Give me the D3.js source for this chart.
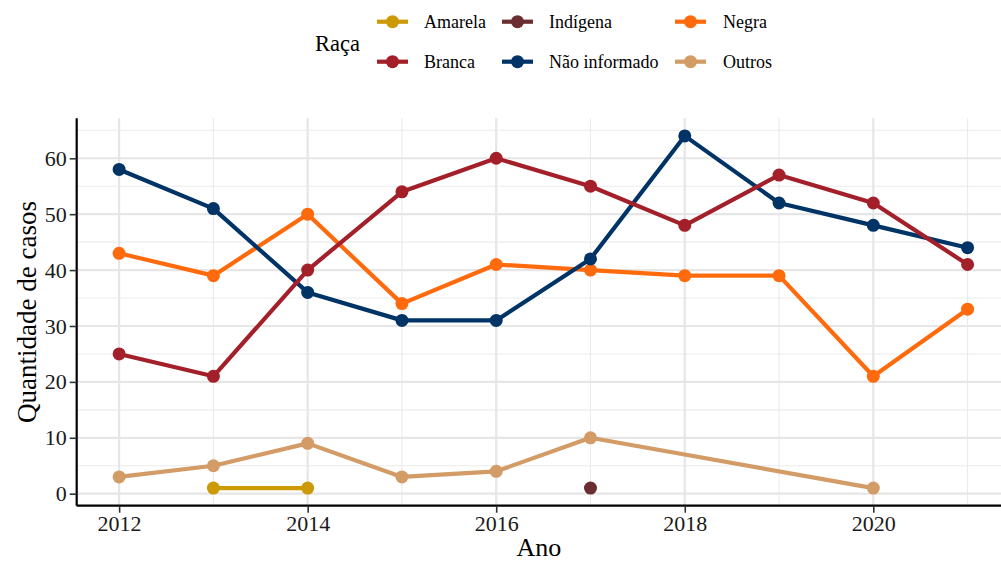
<!DOCTYPE html>
<html><head><meta charset="utf-8">
<script src="https://cdn.jsdelivr.net/npm/d3@7"></script>
<style>body{margin:0;background:#fff}svg{display:block}</style>
</head><body><svg id="c" width="1001" height="563"></svg>
<script>
const years = [2012,2013,2014,2015,2016,2017,2018,2019,2020,2021];
const seriesNames = ["Amarela","Branca","Indígena","Não informado","Negra","Outros"];
const seriesColors = ["#cc9a06","#a3202a","#6b2d2f","#003366","#ff6a0d","#d39b66"];
const amarela = [null,1,1,null,null,null,null,null,null,null];
const branca = [25,21,40,54,60,55,48,57,52,41];
const indigena = [null,null,null,null,null,1,null,null,null,null];
const naoInformado = [58,51,36,31,31,42,64,52,48,44];
const negra = [43,39,50,34,41,40,39,39,21,33];
const outros = [3,5,9,3,4,10,null,null,1,null];
const yTicks = [0,10,20,30,40,50,60];
const yMinor = [5,15,25,35,45,55,65];
const xTicks = [2012,2014,2016,2018,2020];
const xMinor = [2013,2015,2017,2019,2021];

const values = [amarela,branca,indigena,naoInformado,negra,outros];
const series = seriesNames.map((n,i)=>({name:n,color:seriesColors[i],
  pts: years.map((y,j)=>({x:y,v:values[i][j]})).filter(d=>d.v!==null)}));
const drawOrder = series.slice().reverse();

const svg = d3.select("#c");
const L=76.7, R=1010, T=118.3, B=505.7;
const x = d3.scaleLinear().domain([2011.55,2021.45]).range([L,R]);
const y = d3.scaleLinear().domain([-2.15,67.15]).range([B,T]);
const font = "'Liberation Serif','Times New Roman',serif";
const LW = 4.2, PR = 6.5;

const g = svg.append("g");
// grid
g.selectAll(".ymin").data(yMinor).join("line").attr("x1",L).attr("x2",R)
 .attr("y1",d=>y(d)).attr("y2",d=>y(d)).attr("stroke","#ebebeb").attr("stroke-width",1.1);
g.selectAll(".xmin").data(xMinor).join("line").attr("y1",T).attr("y2",B)
 .attr("x1",d=>x(d)).attr("x2",d=>x(d)).attr("stroke","#ebebeb").attr("stroke-width",1.1);
g.selectAll(".ymaj").data(yTicks).join("line").attr("x1",L).attr("x2",R)
 .attr("y1",d=>y(d)).attr("y2",d=>y(d)).attr("stroke","#e6e6e6").attr("stroke-width",2.2);
g.selectAll(".xmaj").data(xTicks).join("line").attr("y1",T).attr("y2",B)
 .attr("x1",d=>x(d)).attr("x2",d=>x(d)).attr("stroke","#e6e6e6").attr("stroke-width",2.2);

// lines
const line = d3.line().x(d=>x(d.x)).y(d=>y(d.v));
drawOrder.forEach(s=>{
  if(s.pts.length>1) g.append("path").datum(s.pts).attr("d",line).attr("fill","none")
   .attr("stroke",s.color).attr("stroke-width",LW).attr("stroke-linejoin","round");
});
drawOrder.forEach(s=>{
  g.selectAll(null).data(s.pts).join("circle").attr("cx",d=>x(d.x)).attr("cy",d=>y(d.v))
   .attr("r",PR).attr("fill",s.color);
});

// axes
const ax = svg.append("g").attr("transform",`translate(${L},0)`)
 .call(d3.axisLeft(y).tickValues(yTicks).tickSize(7).tickPadding(3));
const bx = svg.append("g").attr("transform",`translate(0,${B})`)
 .call(d3.axisBottom(x).tickValues(xTicks).tickFormat(d3.format("d")).tickSize(7).tickPadding(3));
[ax,bx].forEach(a=>{
  a.select(".domain").attr("stroke","#000").attr("stroke-width",2.2);
  a.selectAll(".tick line").attr("stroke","#333").attr("stroke-width",1.6);
  a.selectAll("text").attr("font-family",font).attr("font-size",22).attr("fill","#1a1a1a");
});
ax.select(".domain").attr("d",`M0,${T}V${B}`);
bx.select(".domain").attr("d",`M${L},0H${R}`);

// titles
svg.append("text").attr("x",(L+1001)/2).attr("y",556).attr("text-anchor","middle")
 .attr("font-family",font).attr("font-size",26).attr("fill","#000").text("Ano");
svg.append("text").attr("transform",`translate(27,${(T+B)/2}) rotate(-90)`).attr("text-anchor","middle")
 .attr("dominant-baseline","central")
 .attr("font-family",font).attr("font-size",27).attr("fill","#000").text("Quantidade de casos");

// legend
svg.append("text").attr("x",315).attr("y",43).attr("dominant-baseline","central")
 .attr("font-family",font).attr("font-size",22.5).attr("fill","#000").text("Raça");
const colX = [377,502,675], rowY=[21.7,61.7], txtX=[424,549,723];
series.forEach((s,i)=>{
  const c=Math.floor(i/2), r=i%2;
  const lg = svg.append("g");
  lg.append("line").attr("x1",colX[c]).attr("x2",colX[c]+31).attr("y1",rowY[r]).attr("y2",rowY[r])
   .attr("stroke",s.color).attr("stroke-width",LW);
  lg.append("circle").attr("cx",colX[c]+15.5).attr("cy",rowY[r]).attr("r",PR).attr("fill",s.color);
  lg.append("text").attr("x",txtX[c]).attr("y",rowY[r]).attr("dominant-baseline","central")
   .attr("font-family",font).attr("font-size",18).attr("fill","#000").text(s.name);
});
</script></body></html>
